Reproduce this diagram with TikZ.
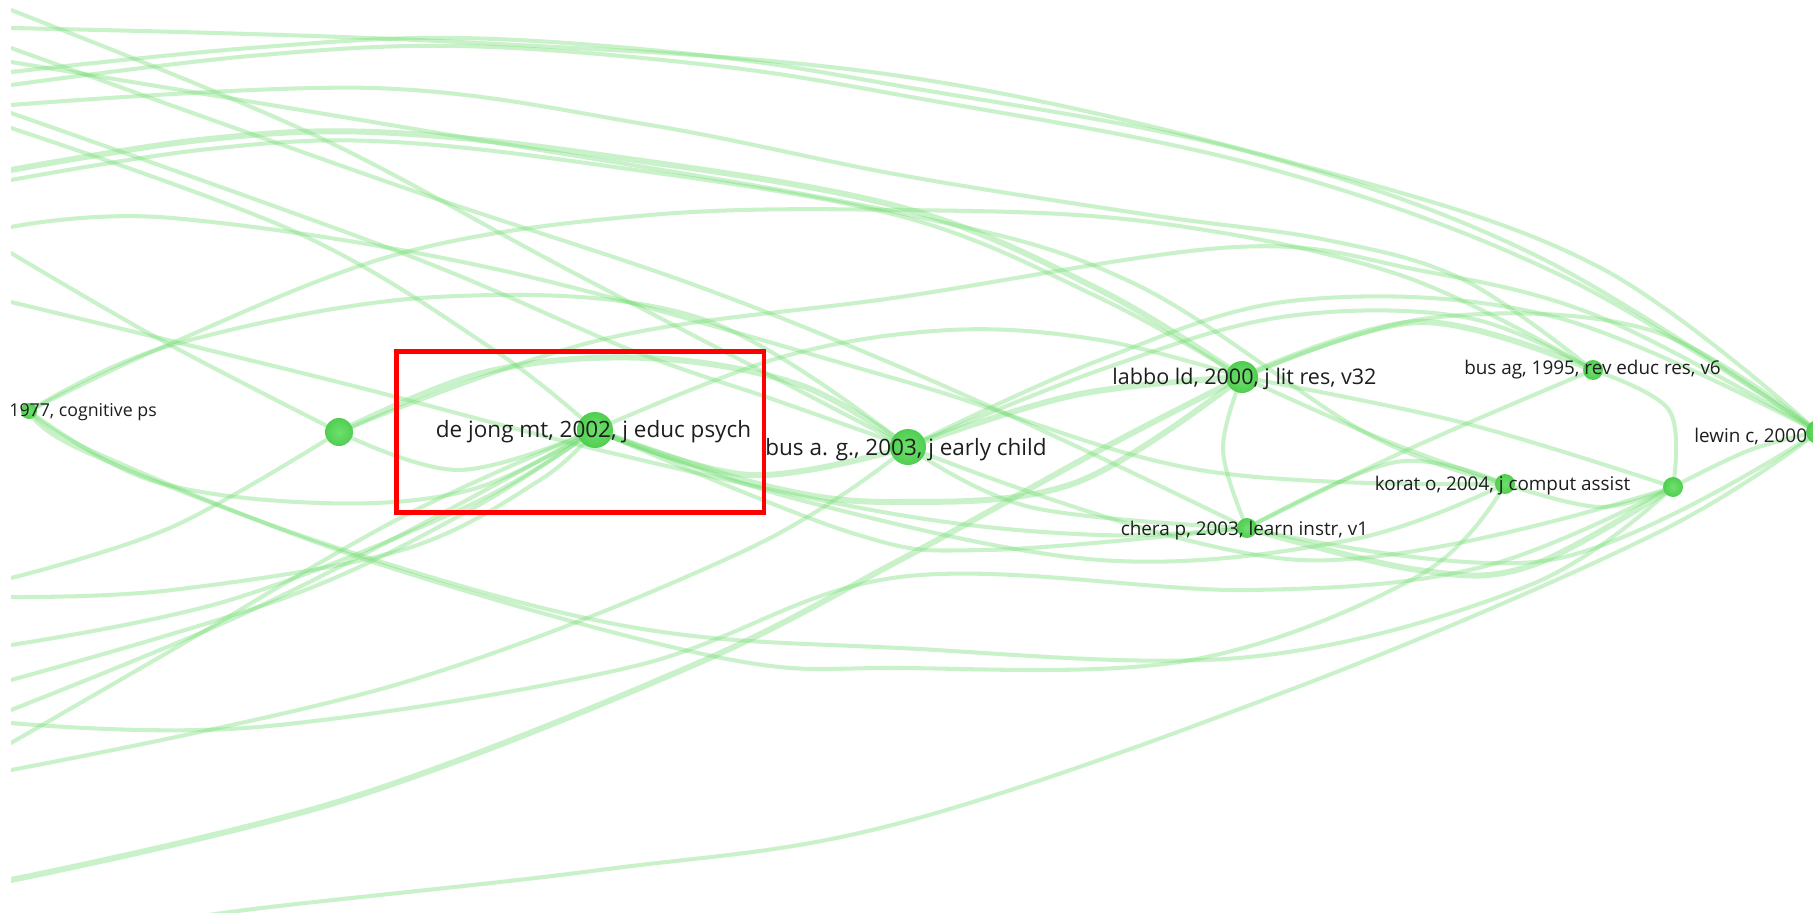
\documentclass[tikz,border=0pt]{standalone}
\usepackage{fontspec}
\setmainfont{Open Sans}
\pgfdeclarelayer{fg}
\pgfsetlayers{main,fg}
\definecolor{edgegreen}{RGB}{110,220,110}
\definecolor{nodegreen}{RGB}{80,206,80}
\definecolor{nodelight}{RGB}{110,224,110}
\definecolor{labelgray}{RGB}{30,30,30}
\tikzset{
  edge/.style={draw=edgegreen, draw opacity=0.36, line width=2.3pt, line cap=round},
  edgethick/.style={line width=3.4pt},
  vnode/.style={circle, inner sep=0pt, shade, inner color=nodelight, outer color=nodegreen},
  biglabel/.style={text=labelgray, font=\fontsize{12.8}{15}\selectfont, inner sep=0pt, anchor=base},
  smalllabel/.style={text=labelgray, font=\fontsize{10.75}{13}\selectfont, inner sep=0pt, anchor=base},
  redbox/.style={draw=red, line width=2.55pt}
}
\newcommand\edgeplot[2][]{\draw[edge,#1] plot[smooth,tension=0.6] coordinates {#2};}

\begin{document}
\begin{tikzpicture}[x=0.02cm,y=-0.02cm]
\useasboundingbox (0,0) rectangle (1813,913);
\fill[white] (0,0) rectangle (1813,913);

% ---------- nodes (foreground layer) ----------
\begin{pgfonlayer}{fg}
\node[vnode, minimum size=0.32cm] (n1977) at (29,411) {};
\node[vnode, minimum size=0.56cm] (nA) at (339,432) {};
\node[vnode, minimum size=0.72cm] (dejong) at (595,430) {};
\node[vnode, minimum size=0.72cm] (bus03) at (908,447) {};
\node[vnode, minimum size=0.64cm] (labbo) at (1242,377) {};
\node[vnode, minimum size=0.40cm] (busag) at (1593,370) {};
\node[vnode, minimum size=0.40cm] (korat) at (1505,484) {};
\node[vnode, minimum size=0.40cm] (nR) at (1673,487) {};
\node[vnode, minimum size=0.40cm] (chera) at (1247,528) {};
\node[vnode, minimum size=0.48cm] (lewin) at (1818,432) {};

\node[smalllabel, font=\fontsize{10.1}{12}\selectfont, anchor=base west] (t1977) at (9,416) {1977, cognitive ps};
\node[biglabel] (tdejong) at (593.5,437) {de jong mt, 2002, j educ psych};
\node[biglabel] (tbus03) at (906,455) {bus a. g., 2003, j early child};
\node[biglabel, font=\fontsize{12.25}{15}\selectfont] (tlabbo) at (1244.5,384) {labbo ld, 2000, j lit res, v32};
\node[smalllabel] (tbusag) at (1592.5,374.5) {bus ag, 1995, rev educ res, v6};
\node[smalllabel] (tkorat) at (1502.5,490) {korat o, 2004, j comput assist};
\node[smalllabel] (tchera) at (1244.5,535) {chera p, 2003, learn instr, v1};
\node[smalllabel, anchor=base west] (tlewin) at (1694,442) {lewin c, 2000};

\draw[redbox] (396.5,351.7) rectangle (764,512.5);
\end{pgfonlayer}

% ---------- free ends ----------
\coordinate (t1) at (11,28);   \coordinate (t2) at (11,72);
\coordinate (t3) at (11,85);   \coordinate (t4) at (11,10);
\coordinate (t5) at (11,48);   \coordinate (t6) at (11,105);
\coordinate (t7) at (11,113);  \coordinate (t8) at (11,128);
\coordinate (t9) at (11,62);   \coordinate (t10) at (11,170);
\coordinate (t11) at (11,180); \coordinate (t15) at (11,253);
\coordinate (t16) at (11,227); \coordinate (t17) at (11,302);
\coordinate (b18) at (11,578); \coordinate (b19) at (11,597);
\coordinate (b20) at (11,645); \coordinate (b21) at (11,680);
\coordinate (b22) at (11,710); \coordinate (b23) at (11,743);
\coordinate (b24) at (11,723); \coordinate (b25) at (11,770);
\coordinate (b26) at (11,880); \coordinate (b27) at (120,935);

% ---------- edges ----------
\begin{scope}
\clip (11,0) rectangle (1813,913);
\edgeplot{(t1) (459,42) (900,76) (1308,167) (1599,267) (lewin)}
\edgeplot{(t2) (250,48) (459,38) (700,55) (900,86) (1249,152) (1541,258) (lewin)}
\edgeplot{(t3) (250,56) (459,46) (700,64) (900,95) (1260,166) (1560,275) (lewin)}
\edgeplot{(t4) (310,133) (574,273) (bus03)}
\edgeplot{(t5) (402,187) (689,283) (900,367) (1080,448) (chera)}
\edgeplot{(t6) (373,88) (650,125) (900,175) (1150,215) (1327,240) (1464,280) (busag)}
\edgeplot{(t7) (402,253) (631,350) (775,400) (bus03)}
\edgeplot{(t8) (298,233) (494,350) (dejong)}
\edgeplot{(t9) (450,135) (900,213) (1133,283) (1366,433) (korat)}
\edgeplot[edgethick]{(t10) (200,140) (373,132) (600,155) (900,207) (1100,290) (labbo)}
\edgeplot{(t11) (200,150) (373,141) (600,165) (900,216) (1100,298) (labbo)}
\edgeplot{(n1977) (172,343) (402,253) (650,215) (900,210) (1150,222) (1400,275) (busag)}
\edgeplot{(nA) (600,340) (900,297) (1236,247) (1418,270) (1600,317) (lewin)}
\edgeplot{(n1977) (172,345) (436,297) (700,318) (bus03)}
\edgeplot{(t15) (161,340) (nA)}
\edgeplot{(t16) (172,218) (500,270) (900,380) (1200,470) (korat)}
\edgeplot{(t17) (330,380) (620,455) (900,515) (1100,535) (chera)}
\edgeplot{(b18) (172,527) (nA)}
\edgeplot{(b19) (172,590) (402,550) (540,480) (dejong)}
\edgeplot{(b20) (230,600) (470,505) (dejong)}
\edgeplot{(b21) (287,597) (470,510) (dejong)}
\edgeplot{(b22) (230,620) (420,525) (dejong)}
\edgeplot{(b23) (172,650) (402,517) (dejong)}
\edgeplot{(b24) (258,727) (631,667) (900,577) (1249,590) (1482,567) (nR)}
\edgeplot{(b25) (402,683) (746,550) (bus03)}
\edgeplot[edgethick]{(b26) (344,800) (689,667) (900,560) (1100,450) (labbo)}
\edgeplot{(b27) (230,912) (600,870) (900,823) (1308,683) (1657,533) (lewin)}
\edgeplot{(n1977) (86,452) (344,550) (631,627) (900,648) (1249,657) (1530,585) (nR)}
\edgeplot{(n1977) (103,456) (373,562) (717,657) (900,668) (1191,660) (1420,575) (korat)}
\edgeplot[edgethick]{(nA) (486,372) (648,358) (800,385) (bus03)}
\edgeplot{(nA) (459,470) (dejong)}
\edgeplot{(n1977) (150,480) (321,503) (470,490) (dejong)}
\edgeplot[edgethick]{(dejong) (750,475) (bus03)}
\edgeplot{(dejong) (782,357) (950,330) (1100,340) (labbo)}
\edgeplot[edgethick]{(dejong) (762,485) (896,502) (1075,483) (labbo)}
\edgeplot[edgethick]{(bus03) (1075,395) (labbo)}
\edgeplot{(bus03) (1030,507) (chera)}
\edgeplot{(dejong) (852,533) (986,550) (chera)}
\edgeplot{(dejong) (800,500) (1100,560) (1350,540) (korat)}
\edgeplot{(labbo) (1223,450) (chera)}
\edgeplot{(labbo) (1384,440) (korat)}
\edgeplot{(labbo) (1464,423) (nR)}
\edgeplot{(busag) (1669,410) (nR)}
\edgeplot{(busag) (1407,450) (chera)}
\edgeplot[edgethick]{(labbo) (1420,322) (busag)}
\edgeplot{(labbo) (1430,318) (1650,330) (lewin)}
\edgeplot{(chera) (1396,462) (korat)}
\edgeplot{(korat) (1600,507) (nR)}
\edgeplot[edgethick]{(chera) (1418,570) (1530,566) (nR)}
\edgeplot{(nR) (1750,450) (lewin)}
\edgeplot{(bus03) (1100,360) (1300,300) (1555,317) (lewin)}
\edgeplot{(bus03) (1100,370) (1282,317) (1464,317) (busag)}
\edgeplot{(bus03) (1300,560) (nR)}
\edgeplot{(chera) (1550,560) (lewin)}
\end{scope}
\end{tikzpicture}
\end{document}
